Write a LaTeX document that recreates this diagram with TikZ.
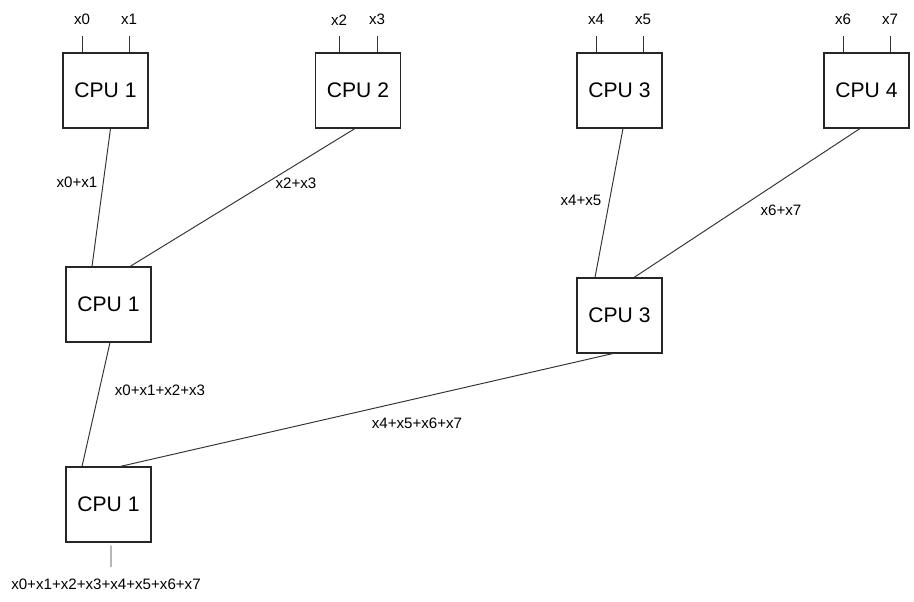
\documentclass[tikz,border=0pt]{standalone}
\usepackage{fontspec}
\setmainfont{Liberation Sans}
\begin{document}
\begin{tikzpicture}[x=0.02cm,y=-0.02cm,
  cpu/.style={draw=black!85,line width=0.6pt,minimum width=1.7cm,minimum height=1.5cm,inner sep=0pt,font=\fontsize{12}{14}\selectfont},
  val/.style={inner sep=0pt,font=\fontsize{8.6}{10}\selectfont},
  wire/.style={draw=black!80,line width=0.55pt}]
\useasboundingbox (0,0) rectangle (914,602);
% first level
\node[cpu] (c1) at (105.5,90.5) {CPU 1};
\node[cpu] (c2) at (358,90.5) {CPU 2};
\node[cpu] (c3) at (619.5,90.5) {CPU 3};
\node[cpu] (c4) at (866.5,90.5) {CPU 4};
% inputs
\foreach \n/\a/\b/\d in {c1/x0/x1/0.47, c2/x2/x3/0.38, c3/x4/x5/0.47, c4/x6/x7/0.47}{
  \draw[wire] ([xshift=-\d cm]\n.north) -- ++(0,-16) node[val,above=9.5pt,anchor=center]{\a};
  \draw[wire] ([xshift=\d cm]\n.north) -- ++(0,-16) node[val,above=9.5pt,anchor=center]{\b};
}
% second level
\node[cpu] (m1) at (108.5,304.5) {CPU 1};
\node[cpu] (m3) at (619.5,315.5) {CPU 3};
\draw[wire] ([xshift=0.1cm]c1.south) -- ([xshift=-0.33cm]m1.north);
\draw[wire] ([xshift=-0.06cm]c2.south) -- ([xshift=0.43cm]m1.north);
\draw[wire] ([xshift=0.07cm]c3.south) -- ([xshift=-0.49cm]m3.north);
\draw[wire] ([xshift=-0.13cm]c4.south) -- ([xshift=0.29cm]m3.north);
\node[val] (s01) at (77,182) {x0+x1};
\node[val] (s23) at (296,183) {x2+x3};
\node[val] (s45) at (581,200) {x4+x5};
\node[val] (s67) at (781,210) {x6+x7};
% last level
\node[cpu] (b1) at (108.5,504.5) {CPU 1};
\draw[wire] ([xshift=0.03cm]m1.south) -- ([xshift=-0.53cm]b1.north);
\draw[wire] ([xshift=-0.13cm]m3.south) -- ([xshift=0.23cm]b1.north);
\node[val] (s03) at (160,390) {x0+x1+x2+x3};
\node[val] (s47) at (417,423) {x4+x5+x6+x7};
% output
\coordinate (out) at (111,567);
\draw[wire] ([xshift=0.05cm,yshift=-0.06cm]b1.south) -- (out);
\node[val] (s07) at (106,584) {x0+x1+x2+x3+x4+x5+x6+x7};
\end{tikzpicture}
\end{document}
